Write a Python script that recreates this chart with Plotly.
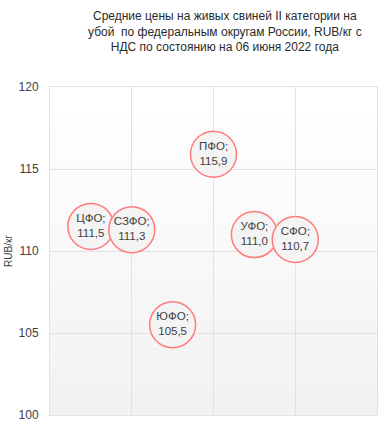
import plotly.graph_objects as go

districts = ["ЦФО", "СЗФО", "ЮФО", "ПФО", "УФО", "СФО"]
x_pos = [0.5, 1.0, 1.5, 2.0, 2.5, 3.0]
prices = [111.5, 111.3, 105.5, 115.9, 111.0, 110.7]
y_ticks = [100, 105, 110, 115, 120]

labels = [f"{d};<br>{str(p).replace('.', ',')}" for d, p in zip(districts, prices)]

FONT = "Liberation Sans, Arial, sans-serif"

fig = go.Figure()
fig.add_trace(go.Scatter(
    x=x_pos, y=prices, mode="markers+text",
    text=labels, textposition="middle center",
    textfont=dict(family=FONT, size=11.5, color="#404040"),
    marker=dict(size=46, color="#f4f4f4", line=dict(color="#ff7c7c", width=1.5)),
    hoverinfo="skip", cliponaxis=False,
))

# subtle vertical gradient background
n = 24
for i in range(n):
    g = 255 - int(14 * (i + 0.5) / n)
    fig.add_shape(type="rect", xref="paper", yref="paper",
                  x0=0, x1=1, y0=1 - (i + 1) / n, y1=1 - i / n,
                  fillcolor=f"rgb({g},{g},{g})", line=dict(width=0), layer="below")

fig.add_annotation(
    text="Средние цены на живых свиней II категории на<br>убой  по федеральным округам России, RUB/кг с<br>НДС по состоянию на 06 июня 2022 года",
    xref="paper", yref="paper", x=0.535, y=1.245, xanchor="center", yanchor="top",
    showarrow=False, align="center",
    font=dict(family=FONT, size=12, color="#2a2a2a"),
)

fig.update_layout(
    width=380, height=425,
    margin=dict(l=50, r=3, t=87, b=10),
    paper_bgcolor="white", plot_bgcolor="white",
    showlegend=False,
    font=dict(family=FONT, color="#404040"),
)
fig.update_xaxes(range=[0, 4], dtick=1, showticklabels=False, showgrid=True,
                 gridcolor="#e2e2e2", gridwidth=1, zeroline=False,
                 showline=True, linecolor="#e2e2e2", mirror=True)
fig.update_yaxes(range=[100, 120], tickvals=y_ticks, showgrid=True,
                 gridcolor="#e2e2e2", gridwidth=1, zeroline=False,
                 showline=True, linecolor="#e2e2e2", mirror=True,
                 ticks="", ticklabelstandoff=8,
                 tickfont=dict(size=12, color="#404040"),
                 title=dict(text="RUB/кг", font=dict(size=10, color="#404040"), standoff=4))

fig.write_html("out.html", config={"displayModeBar": False},
               post_script="document.body.style.margin='0';")
